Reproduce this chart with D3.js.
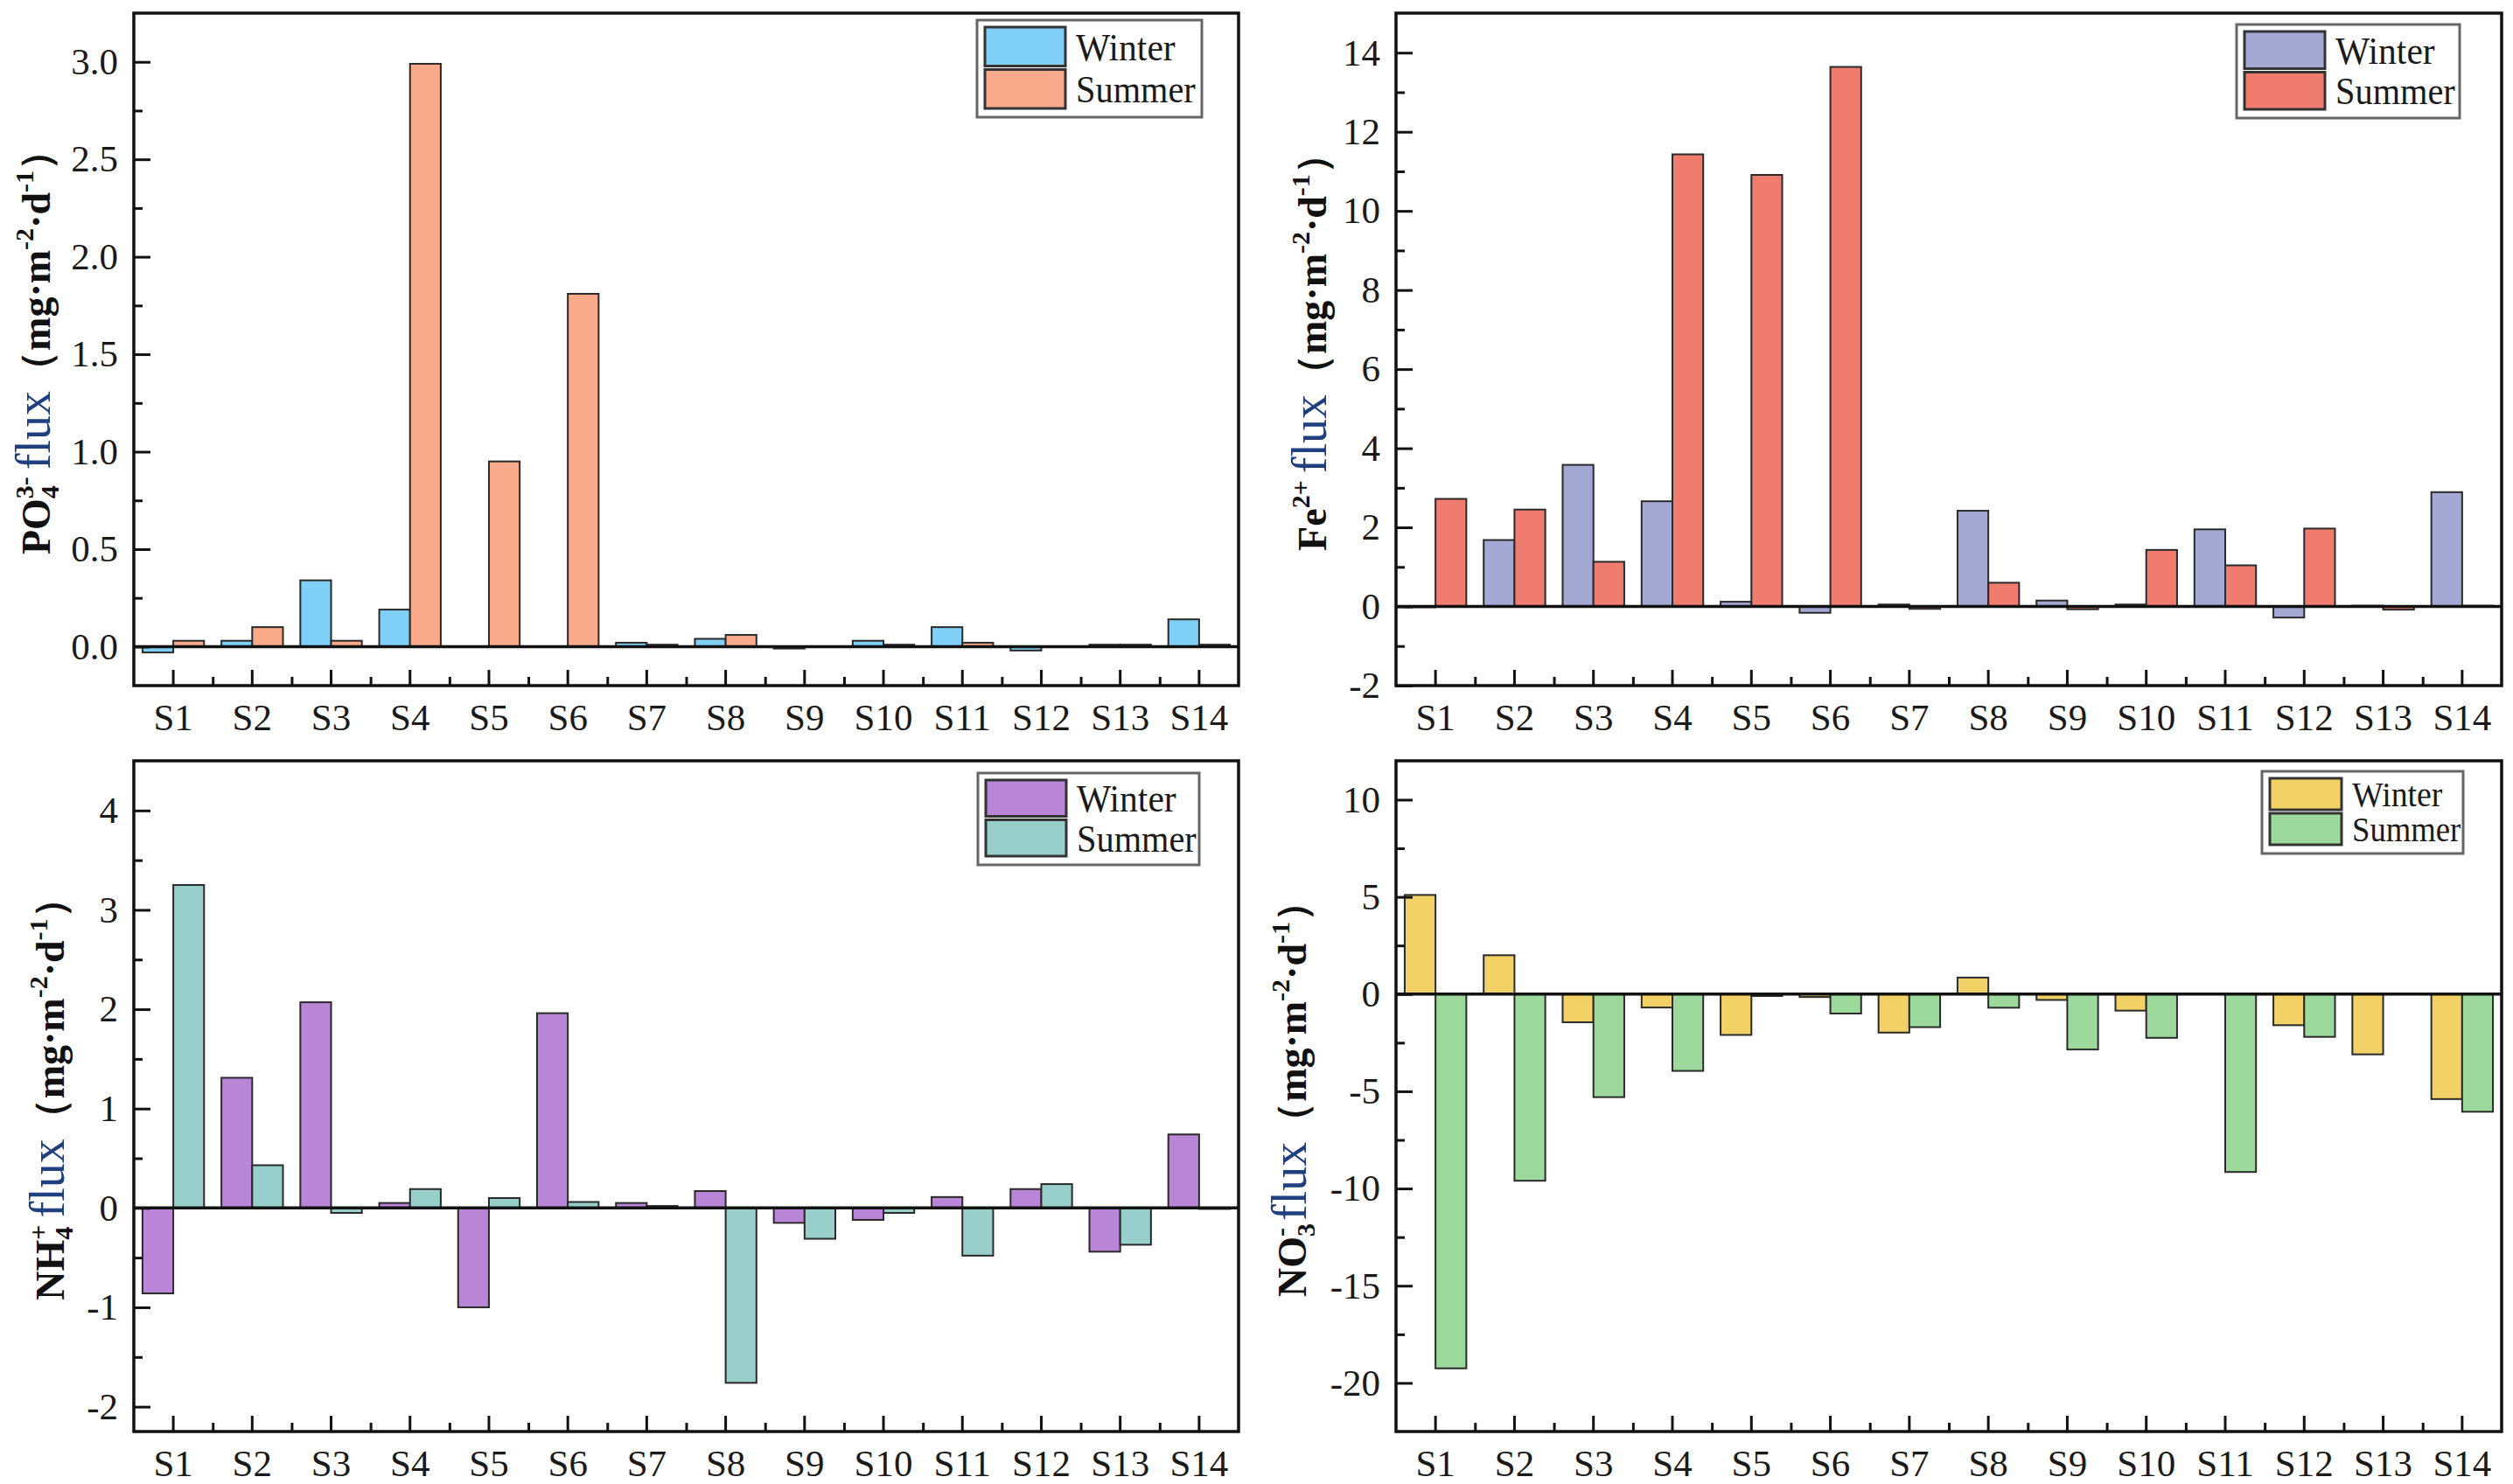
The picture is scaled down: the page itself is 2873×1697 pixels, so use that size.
<!DOCTYPE html>
<html><head><meta charset="utf-8">
<script src="https://cdn.jsdelivr.net/npm/d3@7"></script>
<style>body{margin:0;background:#fff}svg{display:block}</style>
</head><body><svg id="c" width="2873" height="1697"></svg>
<script>
const sites = ["S1","S2","S3","S4","S5","S6","S7","S8","S9","S10","S11","S12","S13","S14"];
const seasons = ["Winter","Summer"];

const po4Winter = [-0.03,0.03,0.34,0.19,0,0,0.02,0.04,-0.01,0.03,0.10,-0.02,0.01,0.14];
const po4Summer = [0.03,0.10,0.03,2.99,0.95,1.81,0.01,0.06,0,0.01,0.02,0,0.01,0.01];
const fe2Winter = [-0.02,1.68,3.58,2.66,0.12,-0.16,0.05,2.42,0.15,0.05,1.95,-0.28,0.02,2.89];
const fe2Summer = [2.72,2.45,1.13,11.43,10.91,13.64,-0.06,0.6,-0.07,1.43,1.04,1.97,-0.08,0.02];
const nh4Winter = [-0.86,1.31,2.07,0.05,-1.0,1.96,0.05,0.17,-0.15,-0.12,0.11,0.19,-0.44,0.74];
const nh4Summer = [3.25,0.43,-0.05,0.19,0.10,0.06,0.02,-1.76,-0.31,-0.05,-0.48,0.24,-0.37,-0.01];
const no3Winter = [5.1,2.0,-1.45,-0.69,-2.1,-0.15,-1.98,0.85,-0.3,-0.85,0,-1.6,-3.1,-5.4];
const no3Summer = [-19.25,-9.6,-5.3,-3.95,-0.1,-1.0,-1.7,-0.7,-2.85,-2.25,-9.15,-2.2,0,-6.05];

const po4Ticks = [0,0.5,1.0,1.5,2.0,2.5,3.0];
const po4Minor = [0.25,0.75,1.25,1.75,2.25,2.75];
const fe2Ticks = [-2,0,2,4,6,8,10,12,14];
const fe2Minor = [-1,1,3,5,7,9,11,13];
const nh4Ticks = [-2,-1,0,1,2,3,4];
const nh4Minor = [-1.5,-0.5,0.5,1.5,2.5,3.5];
const no3Ticks = [-20,-15,-10,-5,0,5,10];
const no3Minor = [-17.5,-12.5,-7.5,-2.5,2.5,7.5];

const loc = d3.formatLocale({decimal:".", thousands:",", grouping:[3], currency:["",""], minus:"-"});
const serif = "'Times New Roman','Liberation Serif',serif";
const navy = "#1f3f7f";
const TF = 46, TS = 30;

function unitParts(){
  return [
    {t:"flux", size:56, weight:"normal", fill:navy, shift:0, dx:8},
    {t:"（", size:TF},
    {t:"mg·m", size:TF},
    {t:"-2", size:TS, shift:19},
    {t:"·d", size:TF},
    {t:"-1", size:TS, shift:19},
    {t:"）", size:TF}
  ];
}

const panels = [
  {w:po4Winter, s:po4Summer, dom:[-0.2,3.25], ticks:po4Ticks, minor:po4Minor, fmt:loc.format(".1f"),
   box:{l:153,r:1416,t:15,b:784}, cols:["#7fcff7","#f9aa8a"], titleX:57,
   leg:{ri:42, w:257, ti:8, h:111, fs:44, sw:92},
   title:[{t:"PO",size:TF},{t:"4",size:TS,shift:-10},{t:"3-",size:TS,shift:19,dx:-15}].concat(unitParts())},
  {w:fe2Winter, s:fe2Summer, dom:[-2,15], ticks:fe2Ticks, minor:fe2Minor, fmt:loc.format("d"),
   box:{l:1596,r:2860,t:15,b:784}, cols:["#a3a9d3","#f07b6f"], titleX:1516,
   leg:{ri:48, w:255, ti:13, h:107, fs:44, sw:92},
   title:[{t:"Fe",size:TF},{t:"2+",size:TS,shift:19}].concat(unitParts())},
  {w:nh4Winter, s:nh4Summer, dom:[-2.25,4.5], ticks:nh4Ticks, minor:nh4Minor, fmt:loc.format("d"),
   box:{l:153,r:1416,t:870,b:1637}, cols:["#b985d6","#98cfca"], titleX:73,
   leg:{ri:45, w:253, ti:14, h:105, fs:44, sw:92},
   title:[{t:"NH",size:TF},{t:"4",size:TS,shift:-10},{t:"+",size:TS,shift:19,dx:-15}].concat(unitParts())},
  {w:no3Winter, s:no3Summer, dom:[-22.5,12], ticks:no3Ticks, minor:no3Minor, fmt:loc.format("d"),
   box:{l:1596,r:2860,t:870,b:1637}, cols:["#f2d267","#9dd99d"], titleX:1493,
   leg:{ri:44, w:230, ti:12, h:94, fs:40, sw:82},
   title:[{t:"NO",size:TF},{t:"3",size:TS,shift:-10},{t:"-",size:TS,shift:19,dx:-15}].concat(unitParts())}
];

const legendEm = {Winter:2.61, Summer:3.14};

const svg = d3.select("#c");

panels.forEach(p => {
  const B = p.box;
  const g = svg.append("g");
  const x = d3.scaleBand().domain(sites).range([B.l, B.r]).padding(0);
  const xi = d3.scaleLinear().domain([0, sites.length]).range([B.l, B.r]);
  const y = d3.scaleLinear().domain(p.dom).range([B.b, B.t]);
  const bw = x.bandwidth() * 0.39;

  [p.w, p.s].forEach((vals, k) => {
    g.append("g").selectAll("rect").data(vals).join("rect")
      .attr("x", (d,i) => x(sites[i]) + x.bandwidth()/2 - (k === 0 ? bw : 0))
      .attr("width", bw)
      .attr("y", d => Math.min(y(d), y(0)))
      .attr("height", d => Math.abs(y(d) - y(0)))
      .attr("fill", p.cols[k])
      .attr("stroke", "#2a2a2a")
      .attr("stroke-width", 2);
  });

  g.append("line").attr("x1", B.l).attr("x2", B.r).attr("y1", y(0)).attr("y2", y(0))
    .attr("stroke", "#111").attr("stroke-width", 3.5);

  const ya = g.append("g").attr("transform", `translate(${B.l},0)`)
    .call(d3.axisLeft(y).tickValues(p.ticks).tickFormat(p.fmt).tickSize(-19).tickSizeOuter(0).tickPadding(18));
  const ym = g.append("g").attr("transform", `translate(${B.l},0)`)
    .call(d3.axisLeft(y).tickValues(p.minor).tickFormat("").tickSize(-10).tickSizeOuter(0));
  const xa = g.append("g").attr("transform", `translate(0,${B.b})`)
    .call(d3.axisBottom(x).tickSize(-18).tickSizeOuter(0).tickPadding(20));
  const xm = g.append("g").attr("transform", `translate(0,${B.b})`)
    .call(d3.axisBottom(xi).tickValues(d3.range(1, sites.length)).tickFormat("").tickSize(-10).tickSizeOuter(0));
  [ya, ym, xa, xm].forEach(a => {
    a.select(".domain").remove();
    a.selectAll(".tick line").attr("stroke", "#111").attr("stroke-width", 3);
    a.selectAll(".tick text").attr("font-family", serif).attr("font-size", 43).attr("fill", "#1a1a1a");
  });

  g.append("rect").attr("x", B.l).attr("y", B.t).attr("width", B.r - B.l).attr("height", B.b - B.t)
    .attr("fill", "none").attr("stroke", "#111").attr("stroke-width", 3.5);

  const L = p.leg;
  const lx = B.r - L.ri - L.w, ly = B.t + L.ti;
  const lg = g.append("g");
  lg.append("rect").attr("x", lx).attr("y", ly).attr("width", L.w).attr("height", L.h)
    .attr("fill", "#fff").attr("stroke", "#666").attr("stroke-width", 3);
  const rowH = (L.h - 18) / 2;
  seasons.forEach((s, k) => {
    const ry = ly + 8 + k * (rowH + 2);
    lg.append("rect").attr("x", lx + 9).attr("y", ry).attr("width", L.sw).attr("height", rowH - 2)
      .attr("fill", p.cols[k]).attr("stroke", "#333").attr("stroke-width", 3);
    lg.append("text").attr("x", lx + 9 + L.sw + 12).attr("y", ry + rowH/2 + L.fs*0.33)
      .attr("font-family", serif).attr("font-size", L.fs).attr("fill", "#1a1a1a")
      .attr("textLength", legendEm[s] * L.fs * 0.99).attr("lengthAdjust", "spacingAndGlyphs")
      .text(s);
  });

  const cy = (B.t + B.b) / 2 - 8;
  const tt = g.append("text").attr("transform", `translate(${p.titleX},${cy}) rotate(-90)`)
    .attr("text-anchor", "middle").attr("font-family", serif).attr("font-weight", "bold").attr("fill", "#111");
  let cur = 0;
  p.title.forEach(seg => {
    const sh = seg.shift || 0;
    const ts = tt.append("tspan").attr("font-size", seg.size).attr("dy", -(sh - cur)).text(seg.t);
    if (seg.dx) ts.attr("dx", seg.dx);
    if (seg.weight) ts.attr("font-weight", seg.weight);
    if (seg.fill) ts.attr("fill", seg.fill);
    cur = sh;
  });
});
</script></body></html>
